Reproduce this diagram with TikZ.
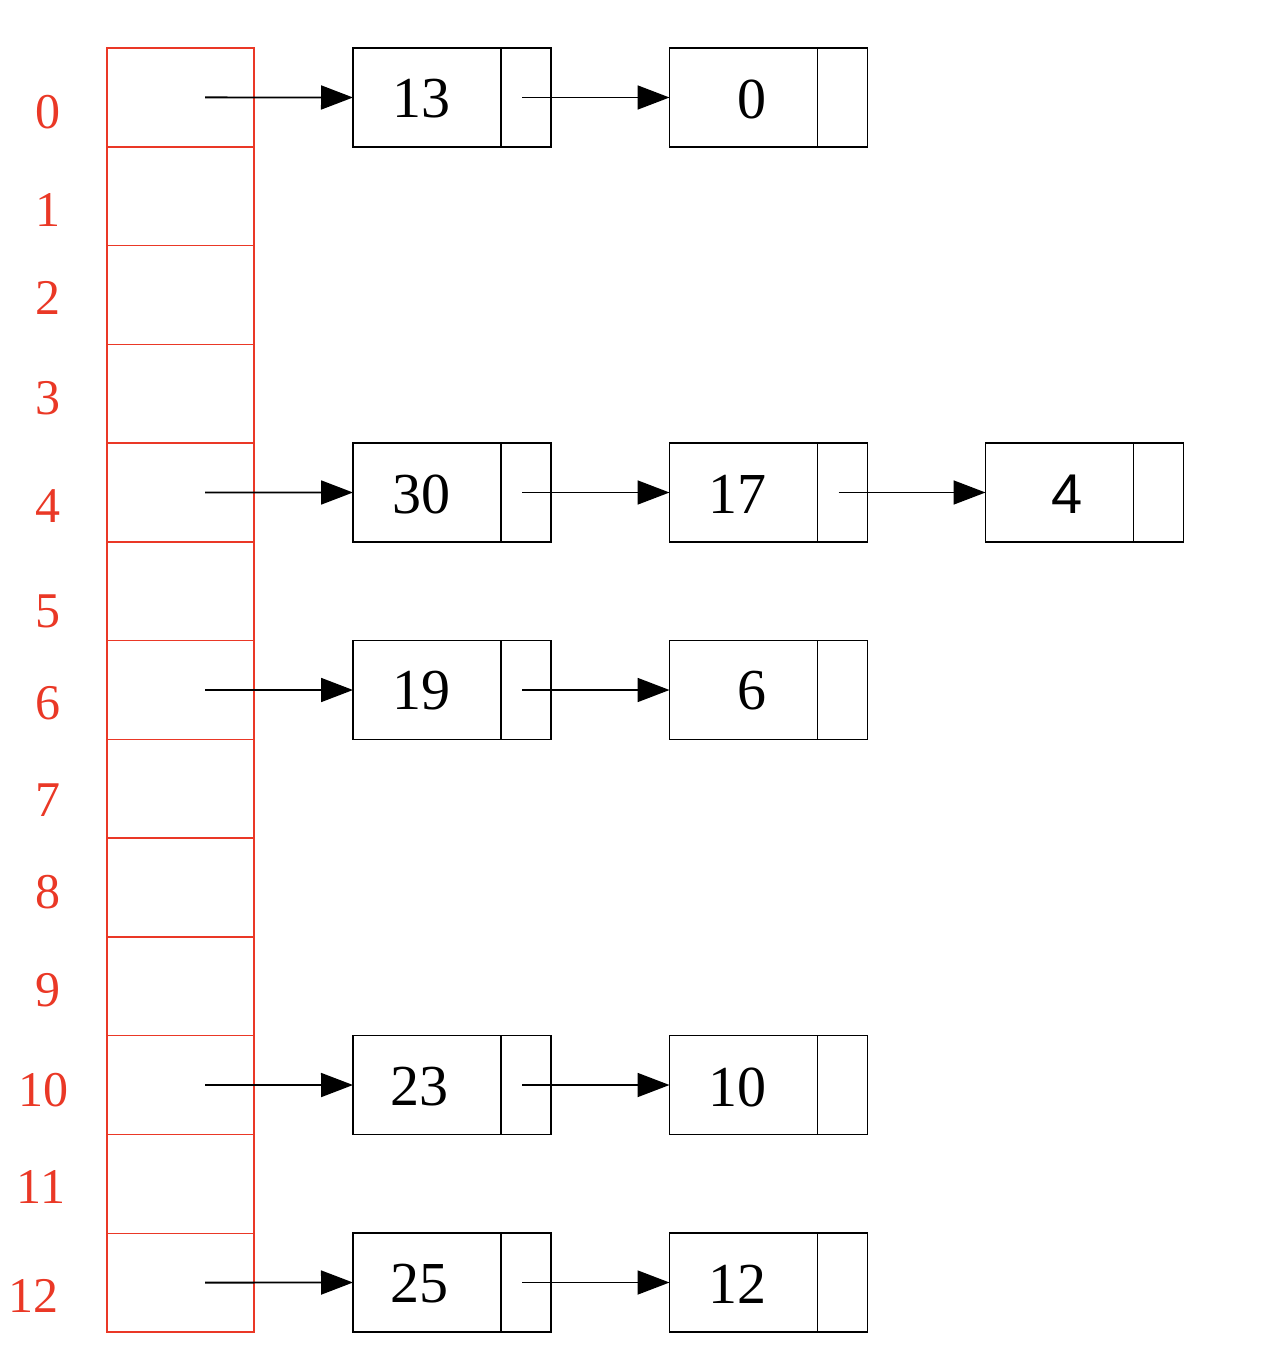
\documentclass[tikz,border=0pt]{standalone}
\usepackage{fontspec}
\setmainfont{Liberation Serif}
\newfontfamily\sansdigits{Liberation Sans}
\usetikzlibrary{arrows.meta}
\definecolor{tablered}{RGB}{234,56,38}
\tikzset{
  cellbox/.style={draw=tablered, line width=1.5pt, minimum width=147pt, minimum height=98.77pt, inner sep=0pt, outer sep=0pt},
  idxlabel/.style={text=tablered, inner sep=0pt, font=\fontsize{50}{50}\selectfont},
  valbox/.style={draw=black, line width=1.8pt, minimum width=148pt, minimum height=99pt, inner sep=0pt, outer sep=0pt},
  ptrbox/.style={draw=black, line width=1.8pt, minimum width=50pt, minimum height=99pt, inner sep=0pt, outer sep=0pt},
  valtext/.style={inner sep=0pt, font=\fontsize{58}{58}\selectfont},
  link/.style={line width=1.8pt, -{Triangle[length=32pt,width=24pt]}, shorten >=0pt},
}
\begin{document}
\begin{tikzpicture}[x=1pt,y=-1pt]
\useasboundingbox (0,0) rectangle (1260,1372);
% table cells
\foreach \i in {0,...,12}{
  \node[cellbox] (t\i) at (180.5,{48+98.77*(\i+0.5)}) {};
}
% index labels
\node[idxlabel] (l0) at (48,112) {0};
\node[idxlabel] (l1) at (48,210) {1};
\node[idxlabel] (l2) at (48,298) {2};
\node[idxlabel] (l3) at (48,398) {3};
\node[idxlabel] (l4) at (48,506) {4};
\node[idxlabel] (l5) at (48,611) {5};
\node[idxlabel] (l6) at (48,703) {6};
\node[idxlabel] (l7) at (48,800) {7};
\node[idxlabel] (l8) at (48,892) {8};
\node[idxlabel] (l9) at (48,990) {9};
\node[idxlabel] (l10) at (43,1090) {10};
\node[idxlabel] (l11) at (41,1187) {11};
\node[idxlabel] (l12) at (33.5,1296) {12};
% start points of table pointers
\foreach \i in {0,4,6,10,12}{
  \coordinate (s\i) at ([xshift=24.5pt]t\i.center);
}
% list nodes: macro-free, explicit
% row 0
\node[valbox] (a0) at (427,97.5) {};
\node[ptrbox] (a0p) at (526,97.5) {};
\node[valtext] (a0t) at (421,99) {13};
\node[valbox] (b0) at (743.5,97.5) {};
\node[ptrbox] (b0p) at (842.5,97.5) {};
\node[valtext] (b0t) at (752,99) {0};
% row 4
\node[valbox] (a4) at (427,492.5) {};
\node[ptrbox] (a4p) at (526,492.5) {};
\node[valtext] (a4t) at (421,494) {30};
\node[valbox] (b4) at (743.5,492.5) {};
\node[ptrbox] (b4p) at (842.5,492.5) {};
\node[valtext] (b4t) at (737,494) {17};
\node[valbox] (c4) at (1059.5,492.5) {};
\node[ptrbox] (c4p) at (1158.5,492.5) {};
\node[valtext, font=\sansdigits\fontsize{56}{56}\selectfont] (c4t) at (1067,494) {4};
% row 6
\node[valbox] (a6) at (427,690) {};
\node[ptrbox] (a6p) at (526,690) {};
\node[valtext] (a6t) at (421,691) {19};
\node[valbox] (b6) at (743.5,690) {};
\node[ptrbox] (b6p) at (842.5,690) {};
\node[valtext] (b6t) at (752,691) {6};
% row 10
\node[valbox] (a10) at (427,1085) {};
\node[ptrbox] (a10p) at (526,1085) {};
\node[valtext] (a10t) at (419,1087) {23};
\node[valbox] (b10) at (743.5,1085) {};
\node[ptrbox] (b10p) at (842.5,1085) {};
\node[valtext] (b10t) at (737,1087) {10};
% row 12
\node[valbox] (a12) at (427,1282.5) {};
\node[ptrbox] (a12p) at (526,1282.5) {};
\node[valtext] (a12t) at (419,1284) {25};
\node[valbox] (b12) at (743.5,1282.5) {};
\node[ptrbox] (b12p) at (842.5,1282.5) {};
\node[valtext] (b12t) at (737,1284) {12};
% pointer start coordinates inside pointer cells
\foreach \n in {a0p,a4p,b4p,a6p,a10p,a12p}{
  \coordinate (\n s) at ([xshift=-4pt]\n.center);
}
% connectors
\draw[link] (s0) -- (a0.west);
\draw[link] (a0ps) -- (b0.west);
\draw[link] (s4) -- (a4.west);
\draw[link] (a4ps) -- (b4.west);
\draw[link] (b4ps) -- (c4.west);
\draw[link] (s6) -- (a6.west);
\draw[link] (a6ps) -- (b6.west);
\draw[link] (s10) -- (a10.west);
\draw[link] (a10ps) -- (b10.west);
\draw[link] (s12) -- (a12.west);
\draw[link] (a12ps) -- (b12.west);
\end{tikzpicture}
\end{document}
